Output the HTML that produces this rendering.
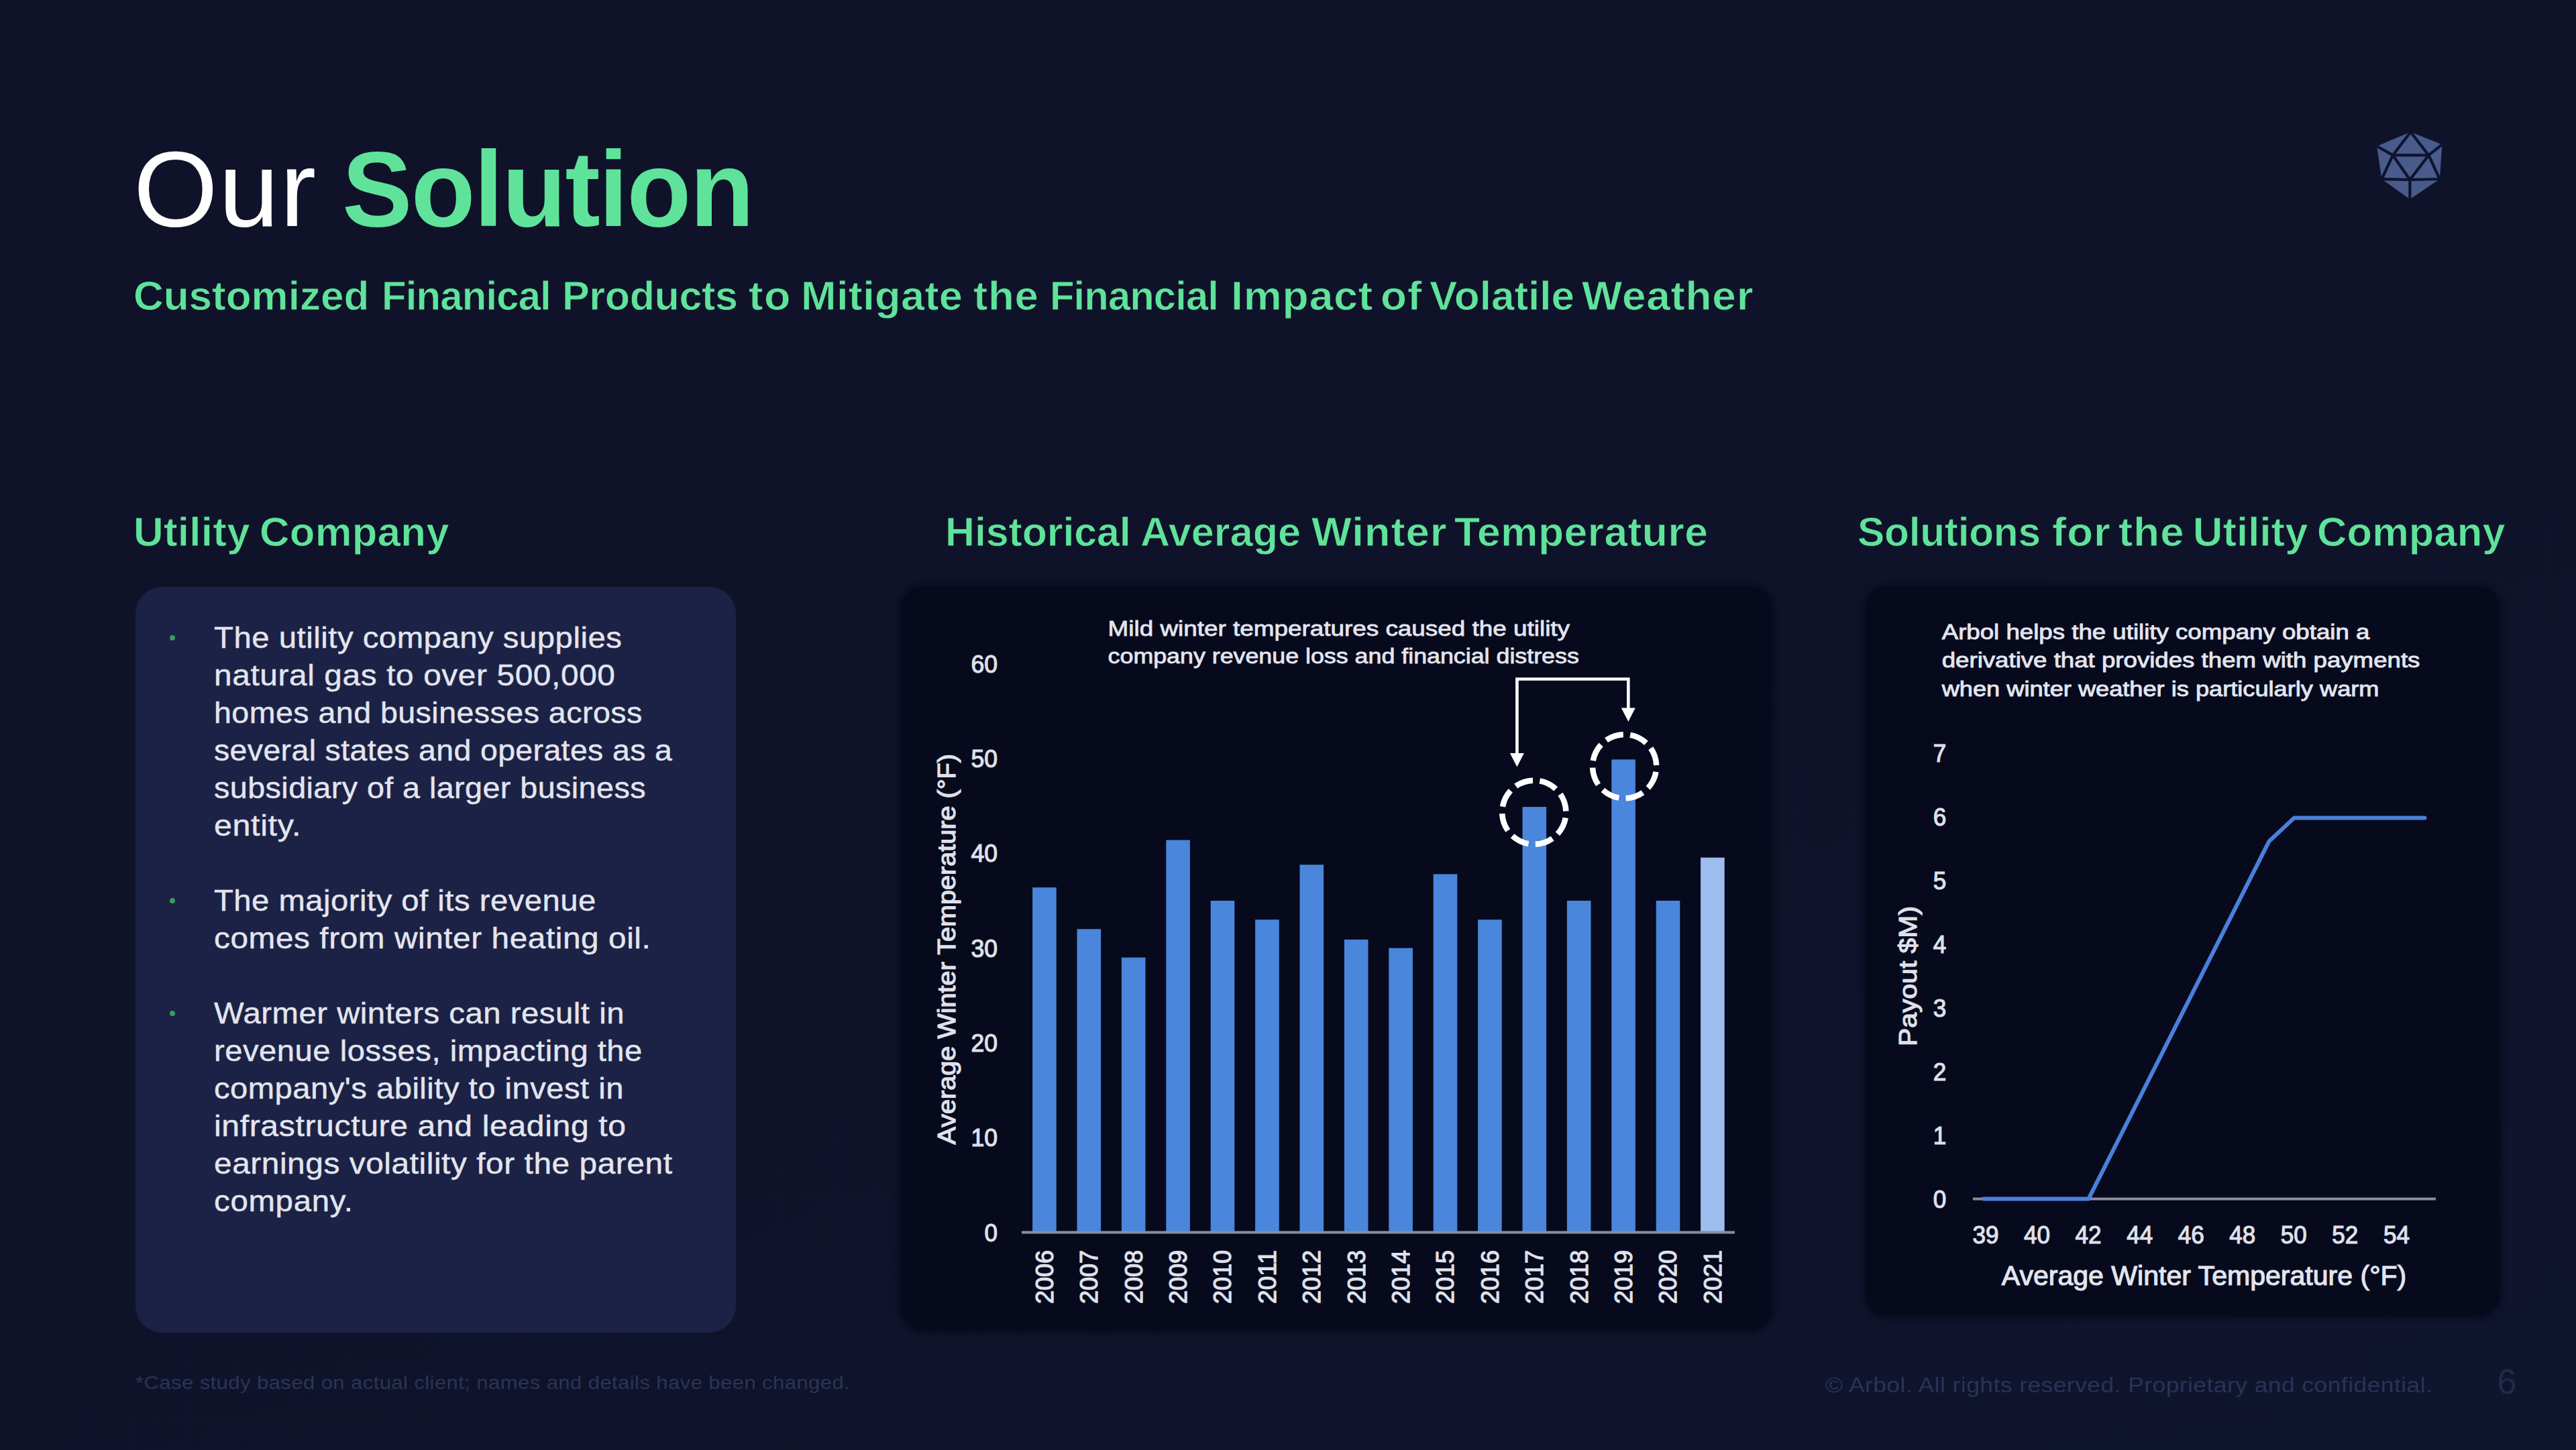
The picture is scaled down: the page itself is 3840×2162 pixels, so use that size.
<!DOCTYPE html>
<html lang="en"><head><meta charset="utf-8"><title>Our Solution</title>
<style>
html,body{margin:0;padding:0}
body{width:3840px;height:2162px;overflow:hidden;position:relative;background:#0f132a;font-family:'Liberation Sans', Arial, sans-serif;}
.bg{position:absolute;inset:0;background:linear-gradient(160deg,#0f1229 0%,#0f132a 55%,#0f152d 100%)}
.t{position:absolute;margin:0;line-height:1;white-space:nowrap;transform-origin:0 50%}
.w span{position:absolute;top:0;transform-origin:0 50%}
.semi{-webkit-text-stroke:0.8px #0f132a}
.card{position:absolute;margin:0}
.c1{left:202px;top:875px;width:895px;height:1112px;border-radius:40px;background:#1c2245}
.c2{left:1344px;top:875px;width:1297px;height:1108px;border-radius:32px;background:#070a1d;box-shadow:0 0 10px 2px #070a1d}
.c3{left:2781px;top:875px;width:945px;height:1087px;border-radius:32px;background:#070a1d;box-shadow:0 0 10px 2px #070a1d}
.card svg{position:absolute;left:0;top:0;overflow:visible}
.c1 ul{list-style:none;margin:0;padding:0}
.c1 li{position:absolute;left:117.0px;font-size:44px;line-height:56px;color:#e3e5ef;white-space:nowrap;-webkit-text-stroke:0.45px #e3e5ef}
.c1 li span{display:block;transform-origin:0 50%}
.c1 li::before{content:"";position:absolute;left:-66px;top:24px;width:8px;height:8px;border-radius:50%;background:#3a9b63}
.logo{position:absolute;left:3535px;top:190px}
</style></head>
<body>
<div class="bg"></div>
<h1 class="t w" style="left:199.1px;top:201.8px;font-size:160px;font-weight:400;color:#fff"><span style="left:0;letter-spacing:1.314px;transform:scaleX(1.0103)">Our</span> <span style="left:311.4px;font-weight:700;color:#5fe39a;letter-spacing:-1.829px;transform:scaleX(0.9796)">Solution</span></h1>
<h2 class="t w semi" style="left:201.7px;top:410.0px;font-size:62px;font-weight:700;color:#5fe39a"><span style="left:-3.1px;letter-spacing:-0.004px;transform:scaleX(0.9998)">Customized</span> <span style="left:367.2px;letter-spacing:-0.809px;transform:scaleX(0.9634)">Finanical</span> <span style="left:636.7px;letter-spacing:-0.383px;transform:scaleX(0.9848)">Products</span> <span style="left:914.7px;letter-spacing:1.5px;transform:scaleX(1.0423)">to</span> <span style="left:992.8px;letter-spacing:0.37px;transform:scaleX(1.017)">Mitigate</span> <span style="left:1249.3px;letter-spacing:0.743px;transform:scaleX(1.0254)">the</span> <span style="left:1363.6px;letter-spacing:-0.851px;transform:scaleX(0.9615)">Financial</span> <span style="left:1633.5px;letter-spacing:0.875px;transform:scaleX(1.0338)">Impact</span> <span style="left:1856.2px;letter-spacing:0.998px;transform:scaleX(1.0281)">of</span> <span style="left:1929.1px;letter-spacing:0.008px;transform:scaleX(1.0004)">Volatile</span> <span style="left:2156.7px;letter-spacing:0.779px;transform:scaleX(1.0295)">Weather</span></h2>
<h3 class="t w semi" style="left:202.2px;top:762.6px;font-size:61px;font-weight:700;color:#5fe39a"><span style="left:-3.1px;letter-spacing:0.267px;transform:scaleX(1.0146)">Utility</span> <span style="left:184.6px;letter-spacing:0.301px;transform:scaleX(1.0099)">Company</span></h3>
<h3 class="t w semi" style="left:1412.1px;top:762.6px;font-size:61px;font-weight:700;color:#5fe39a"><span style="left:-3.0px;letter-spacing:-0.054px;transform:scaleX(0.9973)">Historical</span> <span style="left:288.1px;letter-spacing:0.032px;transform:scaleX(1.0012)">Average</span> <span style="left:542.5px;letter-spacing:0.945px;transform:scaleX(1.0387)">Winter</span> <span style="left:755.9px;letter-spacing:0.502px;transform:scaleX(1.021)">Temperature</span></h3>
<h3 class="t w semi" style="left:2771.9px;top:762.6px;font-size:61px;font-weight:700;color:#5fe39a"><span style="left:-3.0px;letter-spacing:-0.241px;transform:scaleX(0.9894)">Solutions</span> <span style="left:287.5px;letter-spacing:1.01px;transform:scaleX(1.0399)">for</span> <span style="left:385.9px;letter-spacing:1.134px;transform:scaleX(1.0395)">the</span> <span style="left:497.2px;letter-spacing:0.121px;transform:scaleX(1.0066)">Utility</span> <span style="left:682.4px;letter-spacing:0.176px;transform:scaleX(1.0058)">Company</span></h3>
<section class="card c1">
<ul>
<li style="top:47.8px">
<span style="letter-spacing:0.491px;transform:scaleX(1.0741)">The utility company supplies</span>
<span style="letter-spacing:0.571px;transform:scaleX(1.086)">natural gas to over 500,000</span>
<span style="letter-spacing:0.432px;transform:scaleX(1.0583)">homes and businesses across</span>
<span style="letter-spacing:0.367px;transform:scaleX(1.0549)">several states and operates as a</span>
<span style="letter-spacing:0.397px;transform:scaleX(1.0616)">subsidiary of a larger business</span>
<span style="letter-spacing:0.594px;transform:scaleX(1.0994)">entity.</span>
</li>
<li style="top:440.4px">
<span style="letter-spacing:0.47px;transform:scaleX(1.0728)">The majority of its revenue</span>
<span style="letter-spacing:0.547px;transform:scaleX(1.0841)">comes from winter heating oil.</span>
</li>
<li style="top:608.2px">
<span style="letter-spacing:0.495px;transform:scaleX(1.0743)">Warmer winters can result in</span>
<span style="letter-spacing:0.483px;transform:scaleX(1.0717)">revenue losses, impacting the</span>
<span style="letter-spacing:0.449px;transform:scaleX(1.0723)">company&#x27;s ability to invest in</span>
<span style="letter-spacing:0.583px;transform:scaleX(1.0931)">infrastructure and leading to</span>
<span style="letter-spacing:0.517px;transform:scaleX(1.0866)">earnings volatility for the parent</span>
<span style="letter-spacing:0.656px;transform:scaleX(1.0766)">company.</span>
</li>
</ul></section>
<section class="card c2"><svg width="1297" height="1108" viewBox="1344 875 1297 1108" font-family="Liberation Sans, Arial, sans-serif">
<g class="bars">
<rect x="1539.1" y="1323.2" width="35.6" height="514.3" fill="#4a86dc"/>
<rect x="1605.5" y="1385.3" width="35.6" height="452.2" fill="#4a86dc"/>
<rect x="1671.9" y="1427.7" width="35.6" height="409.8" fill="#4a86dc"/>
<rect x="1738.3" y="1252.5" width="35.6" height="585.0" fill="#4a86dc"/>
<rect x="1804.7" y="1343.0" width="35.6" height="494.6" fill="#4a86dc"/>
<rect x="1871.1" y="1371.2" width="35.6" height="466.3" fill="#4a86dc"/>
<rect x="1937.5" y="1289.3" width="35.6" height="548.2" fill="#4a86dc"/>
<rect x="2003.9" y="1400.9" width="35.6" height="436.6" fill="#4a86dc"/>
<rect x="2070.3" y="1413.6" width="35.6" height="423.9" fill="#4a86dc"/>
<rect x="2136.7" y="1303.4" width="35.6" height="534.1" fill="#4a86dc"/>
<rect x="2203.1" y="1371.2" width="35.6" height="466.3" fill="#4a86dc"/>
<rect x="2269.5" y="1203.1" width="35.6" height="634.4" fill="#4a86dc"/>
<rect x="2335.9" y="1343.0" width="35.6" height="494.6" fill="#4a86dc"/>
<rect x="2402.3" y="1132.4" width="35.6" height="705.1" fill="#4a86dc"/>
<rect x="2468.7" y="1343.0" width="35.6" height="494.6" fill="#4a86dc"/>
<rect x="2535.1" y="1278.7" width="35.6" height="558.8" fill="#9dbdee"/>
</g>
<rect x="1523" y="1835.5" width="1063" height="4" fill="#8b8e9c"/>
<g class="lab" font-size="37" fill="#dfe1ea" stroke="#dfe1ea" stroke-width="1.2" text-anchor="end">
<text x="1487" y="1850.5" textLength="19.5" lengthAdjust="spacingAndGlyphs">0</text>
<text x="1487" y="1709.2" textLength="39.5" lengthAdjust="spacingAndGlyphs">10</text>
<text x="1487" y="1567.9" textLength="39.5" lengthAdjust="spacingAndGlyphs">20</text>
<text x="1487" y="1426.6" textLength="39.5" lengthAdjust="spacingAndGlyphs">30</text>
<text x="1487" y="1285.3" textLength="39.5" lengthAdjust="spacingAndGlyphs">40</text>
<text x="1487" y="1144.0" textLength="39.5" lengthAdjust="spacingAndGlyphs">50</text>
<text x="1487" y="1002.7" textLength="39.5" lengthAdjust="spacingAndGlyphs">60</text>
</g>
<g class="lab" font-size="37" fill="#dfe1ea" stroke="#dfe1ea" stroke-width="1.2">
<text transform="translate(1569.8 1944) rotate(-90)" textLength="80" lengthAdjust="spacingAndGlyphs">2006</text>
<text transform="translate(1636.2 1944) rotate(-90)" textLength="80" lengthAdjust="spacingAndGlyphs">2007</text>
<text transform="translate(1702.6 1944) rotate(-90)" textLength="80" lengthAdjust="spacingAndGlyphs">2008</text>
<text transform="translate(1769.0 1944) rotate(-90)" textLength="80" lengthAdjust="spacingAndGlyphs">2009</text>
<text transform="translate(1835.4 1944) rotate(-90)" textLength="80" lengthAdjust="spacingAndGlyphs">2010</text>
<text transform="translate(1901.8 1944) rotate(-90)" textLength="80" lengthAdjust="spacingAndGlyphs">2011</text>
<text transform="translate(1968.2 1944) rotate(-90)" textLength="80" lengthAdjust="spacingAndGlyphs">2012</text>
<text transform="translate(2034.6 1944) rotate(-90)" textLength="80" lengthAdjust="spacingAndGlyphs">2013</text>
<text transform="translate(2101.0 1944) rotate(-90)" textLength="80" lengthAdjust="spacingAndGlyphs">2014</text>
<text transform="translate(2167.4 1944) rotate(-90)" textLength="80" lengthAdjust="spacingAndGlyphs">2015</text>
<text transform="translate(2233.8 1944) rotate(-90)" textLength="80" lengthAdjust="spacingAndGlyphs">2016</text>
<text transform="translate(2300.2 1944) rotate(-90)" textLength="80" lengthAdjust="spacingAndGlyphs">2017</text>
<text transform="translate(2366.6 1944) rotate(-90)" textLength="80" lengthAdjust="spacingAndGlyphs">2018</text>
<text transform="translate(2433.0 1944) rotate(-90)" textLength="80" lengthAdjust="spacingAndGlyphs">2019</text>
<text transform="translate(2499.4 1944) rotate(-90)" textLength="80" lengthAdjust="spacingAndGlyphs">2020</text>
<text transform="translate(2565.8 1944) rotate(-90)" textLength="80" lengthAdjust="spacingAndGlyphs">2021</text>
</g>
<text transform="translate(1424 1706.5) rotate(-90)" font-size="36" fill="#dfe1ea" stroke="#dfe1ea" stroke-width="1.2" textLength="582.5" lengthAdjust="spacingAndGlyphs">Average Winter Temperature (°F)</text>
<g font-size="32" fill="#e3e5ef" stroke="#e3e5ef" stroke-width="0.8">
<text x="1651.6" y="947.8" textLength="688.4" lengthAdjust="spacingAndGlyphs">Mild winter temperatures caused the utility</text>
<text x="1651.6" y="988.7" textLength="702.2" lengthAdjust="spacingAndGlyphs">company revenue loss and financial distress</text>
</g>
<path d="M2261.4 1126 V1012.5 H2427.3 V1058" fill="none" stroke="#fff" stroke-width="4.6"/>
<path d="M2250.9 1123 H2271.9 L2261.4 1143.5 Z M2416.8 1055.5 H2437.8 L2427.3 1076 Z" fill="#fff"/>
<circle cx="2286.8" cy="1211.2" r="47.6" fill="none" stroke="#fff" stroke-width="8.5" stroke-dasharray="27 10.38" stroke-dashoffset="-8.2"/>
<circle cx="2421.6" cy="1142.7" r="47.6" fill="none" stroke="#fff" stroke-width="8.5" stroke-dasharray="27 10.38" stroke-dashoffset="-8.2"/>
</svg></section>
<section class="card c3"><svg width="945" height="1087" viewBox="2781 875 945 1087" font-family="Liberation Sans, Arial, sans-serif">
<g font-size="31.5" fill="#e3e5ef" stroke="#e3e5ef" stroke-width="0.9">
<text x="2894.7" y="952.6" textLength="637.7" lengthAdjust="spacingAndGlyphs">Arbol helps the utility company obtain a</text>
<text x="2894.7" y="995.2" textLength="712.7" lengthAdjust="spacingAndGlyphs">derivative that provides them with payments</text>
<text x="2894.7" y="1038" textLength="651.8" lengthAdjust="spacingAndGlyphs">when winter weather is particularly warm</text>
</g>
<g class="lab" font-size="37" fill="#dfe1ea" stroke="#dfe1ea" stroke-width="1.2" text-anchor="middle">
<text x="2891.5" y="1800.6" textLength="19.5" lengthAdjust="spacingAndGlyphs">0</text>
<text x="2891.5" y="1705.7" textLength="19.5" lengthAdjust="spacingAndGlyphs">1</text>
<text x="2891.5" y="1610.8" textLength="19.5" lengthAdjust="spacingAndGlyphs">2</text>
<text x="2891.5" y="1515.9" textLength="19.5" lengthAdjust="spacingAndGlyphs">3</text>
<text x="2891.5" y="1421.0" textLength="19.5" lengthAdjust="spacingAndGlyphs">4</text>
<text x="2891.5" y="1326.1" textLength="19.5" lengthAdjust="spacingAndGlyphs">5</text>
<text x="2891.5" y="1231.2" textLength="19.5" lengthAdjust="spacingAndGlyphs">6</text>
<text x="2891.5" y="1136.3" textLength="19.5" lengthAdjust="spacingAndGlyphs">7</text>
</g>
<rect x="2941" y="1785.6" width="690" height="4" fill="#8b8e9c"/>
<g class="lab" font-size="37" fill="#dfe1ea" stroke="#dfe1ea" stroke-width="1.2" text-anchor="middle">
<text x="2960.0" y="1854" textLength="39" lengthAdjust="spacingAndGlyphs">39</text>
<text x="3036.6" y="1854" textLength="39" lengthAdjust="spacingAndGlyphs">40</text>
<text x="3113.1" y="1854" textLength="39" lengthAdjust="spacingAndGlyphs">42</text>
<text x="3189.7" y="1854" textLength="39" lengthAdjust="spacingAndGlyphs">44</text>
<text x="3266.2" y="1854" textLength="39" lengthAdjust="spacingAndGlyphs">46</text>
<text x="3342.8" y="1854" textLength="39" lengthAdjust="spacingAndGlyphs">48</text>
<text x="3419.3" y="1854" textLength="39" lengthAdjust="spacingAndGlyphs">50</text>
<text x="3495.8" y="1854" textLength="39" lengthAdjust="spacingAndGlyphs">52</text>
<text x="3572.4" y="1854" textLength="39" lengthAdjust="spacingAndGlyphs">54</text>
</g>
<text x="2983.8" y="1916.4" font-size="40" fill="#e3e5ef" stroke="#e3e5ef" stroke-width="1.1" textLength="603.5" lengthAdjust="spacingAndGlyphs">Average Winter Temperature (°F)</text>
<text transform="translate(2856.5 1560) rotate(-90)" font-size="37" fill="#dfe1ea" stroke="#dfe1ea" stroke-width="1.2" textLength="209" lengthAdjust="spacingAndGlyphs">Payout $M)</text>
<polyline points="2957,1787.6 3113.4,1787.6 3382.4,1254.5 3420,1219.4 3614.5,1219.4" fill="none" stroke="#4a80db" stroke-width="6" stroke-linejoin="round" stroke-linecap="round"/>
</svg></section>
<svg class="logo" width="120" height="120" viewBox="3535 190 120 120">
<polygon fill="#485b8a" points="3593.4,196.8 3640.4,215.6 3636.8,267 3592.4,297 3550.4,267 3543,218"/>
<path fill="none" stroke="#0d1330" stroke-width="4.2" stroke-linejoin="round" stroke-linecap="round" d="M3593.4,196.8 L3567,231.4 L3620.3,231.4 Z M3567,231.4 L3592.4,268 L3620.3,231.4 M3543,218 L3567,231.4 L3550.4,267 L3592.4,268 L3636.8,267 L3620.3,231.4 L3640.4,215.6 M3592.4,268 V297"/>
</svg>
<p class="t " style="left:201.6px;top:2048.0px;font-size:28px;font-weight:400;color:#2c3358;letter-spacing:0.349px;transform:scaleX(1.1106);">*Case study based on actual client; names and details have been changed.</p>
<p class="t " style="left:2721.1px;top:2050.3px;font-size:31px;font-weight:400;color:#2b3257;letter-spacing:0.437px;transform:scaleX(1.1392);">© Arbol. All rights reserved. Proprietary and confidential.</p>
<p class="t " style="left:3722.5px;top:2034.3px;font-size:52px;font-weight:400;color:#232949;letter-spacing:0px;">6</p>
</body></html>
